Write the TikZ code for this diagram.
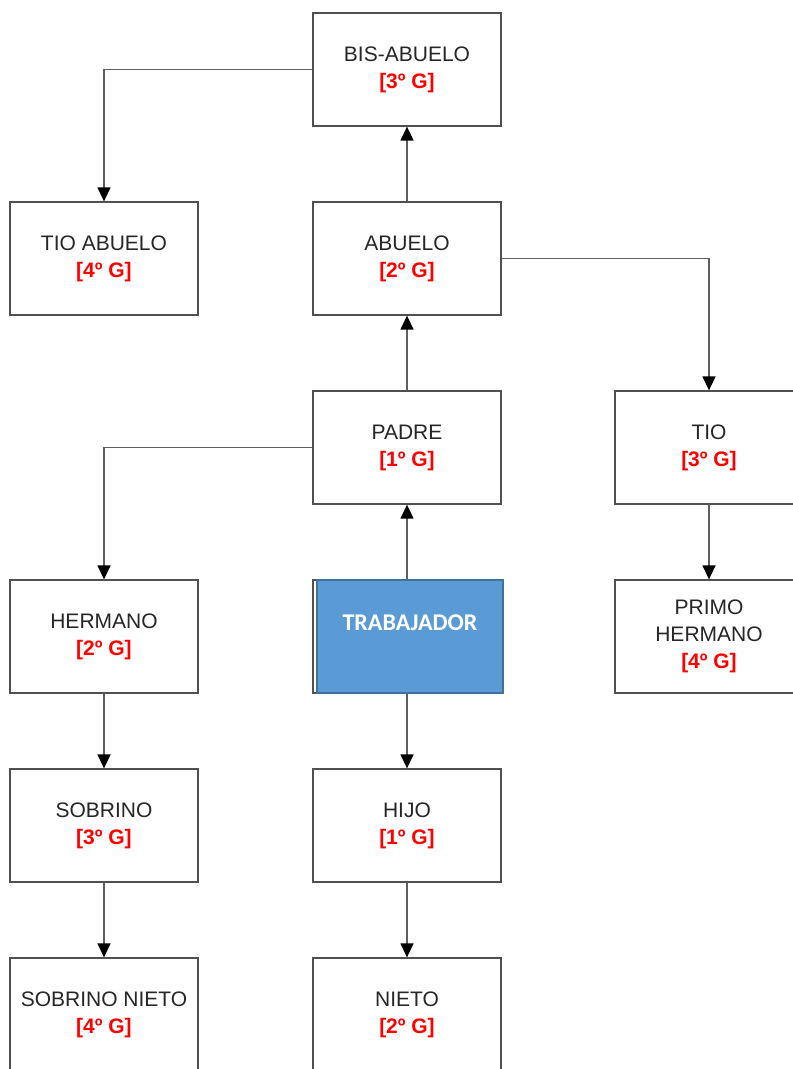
\documentclass[tikz,border=0pt]{standalone}
\usepackage{fontspec}
\setmainfont{Liberation Sans}
\newfontfamily\calibri{Carlito}
\usetikzlibrary{arrows.meta}

\definecolor{framegray}{RGB}{80,80,80}
\definecolor{linegray}{RGB}{95,95,95}
\definecolor{trabblue}{RGB}{91,155,213}
\definecolor{trabedge}{RGB}{65,113,156}
\definecolor{gradred}{RGB}{255,0,0}

\newcommand{\grado}[1]{\textcolor{gradred}{\textbf{[#1º G]}}}

\tikzset{
    box/.style={draw=framegray, line width=1.3pt, fill=white,
        minimum width=188pt, minimum height=113pt, inner sep=0pt,
        align=center, font=\fontsize{21}{27}\selectfont, text=black!85},
    link/.style={draw=linegray, line width=1.4pt,
        -{Triangle[width=13pt,length=14pt,color=black]}}
}

\begin{document}
\begin{tikzpicture}[x=1pt,y=-1pt]
\clip (0,0) rectangle (793,1069);
\fill[white] (0,0) rectangle (793,1069);
% column centres 104, 407, 710 -- row centres every 189
\node[box] (bisabuelo) at (407,69.5) {BIS-ABUELO\\\grado{3}};
\node[box] (tioabuelo) at (104,258.5) {TIO ABUELO\\\grado{4}};
\node[box] (abuelo) at (407,258.5) {ABUELO\\\grado{2}};
\node[box] (padre) at (407,447.5) {PADRE\\\grado{1}};
\node[box] (tio) at (709,447.5) {TIO\\\grado{3}};
\node[box] (hermano) at (104,636.5) {HERMANO\\\grado{2}};
\node[box] (trabajador) at (407,636.5) {};
\node[draw=trabedge, line width=1.3pt, fill=trabblue, minimum width=186pt,
      minimum height=113pt] (trabfill) at (410,636.5) {};
\node[text=white, font=\calibri\bfseries\fontsize{24}{27}\selectfont] (trabtext) at (410,622.5) {TRABAJADOR};
\node[box] (primo) at (709,636.5) {PRIMO\\HERMANO\\\grado{4}};
\node[box] (sobrino) at (104,825.5) {SOBRINO\\\grado{3}};
\node[box] (hijo) at (407,825.5) {HIJO\\\grado{1}};
\node[box] (sobrinonieto) at (104,1014.5) {SOBRINO NIETO\\\grado{4}};
\node[box] (nieto) at (407,1014.5) {NIETO\\\grado{2}};

% ascendientes
\draw[link] (abuelo.north) -- (bisabuelo.south);
\draw[link] (padre.north) -- (abuelo.south);
\draw[link] (trabajador.north) -- (padre.south);
% colaterales
\draw[link] (bisabuelo.west) -| (tioabuelo.north);
\draw[link] (abuelo.east) -| (tio.north);
\draw[link] (padre.west) -| (hermano.north);
\draw[link] (tio.south) -- (primo.north);
\draw[link] (hermano.south) -- (sobrino.north);
\draw[link] (sobrino.south) -- (sobrinonieto.north);
% descendientes
\draw[link] (trabajador.south) -- (hijo.north);
\draw[link] (hijo.south) -- (nieto.north);
\end{tikzpicture}
\end{document}
